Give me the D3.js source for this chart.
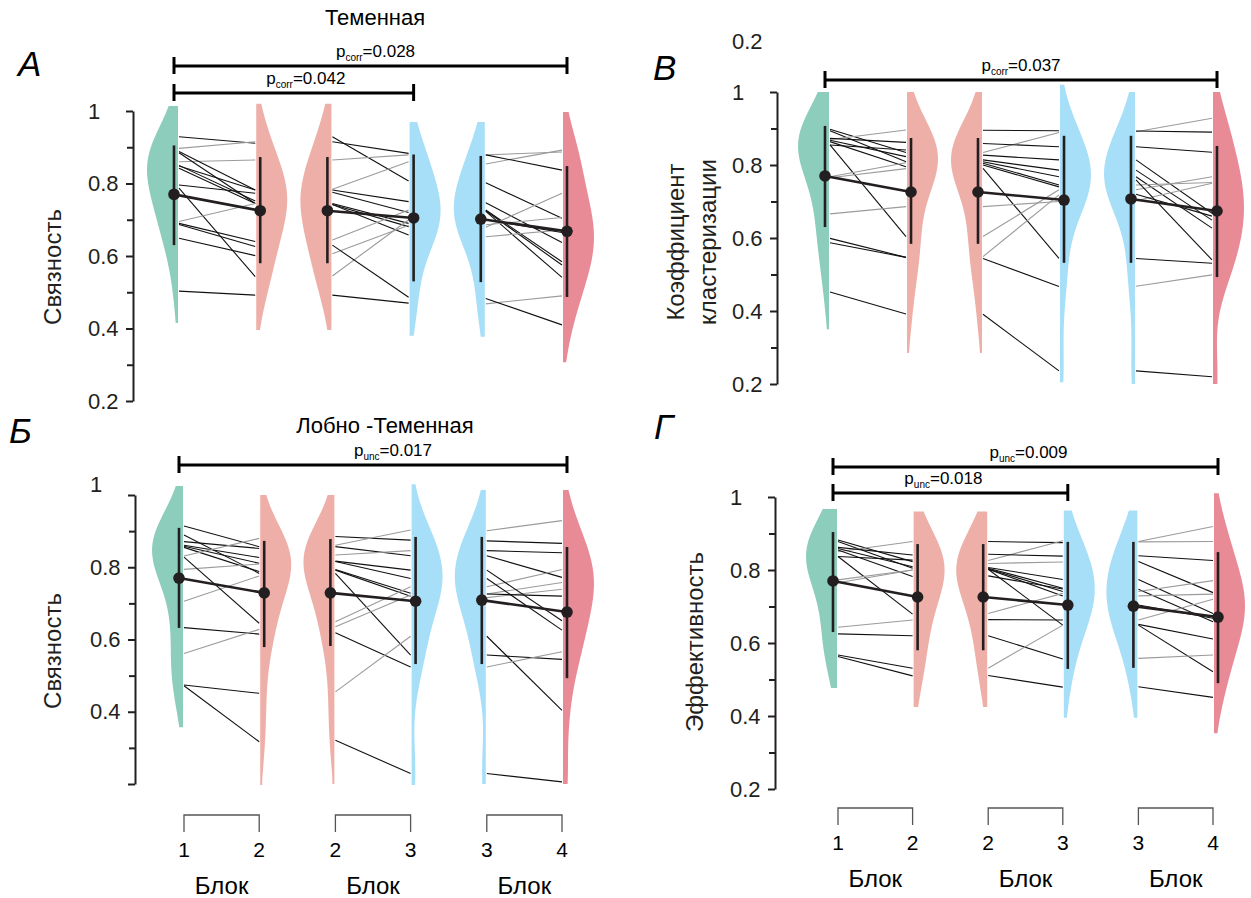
<!DOCTYPE html>
<html>
<head>
<meta charset="utf-8">
<script src="https://cdn.jsdelivr.net/npm/d3@7"></script>
<style>
  body { margin: 0; background: #fff; }
  svg { display: block; font-family: 'Liberation Sans', Arial, sans-serif; }
</style>
</head>
<body>
<div id="chart"></div>
<script>
// values

const yTicks = [0.2, 0.4, 0.6, 0.8, 1]
const yMinorTicks = [0.3, 0.5, 0.7, 0.9]
const blockNames = [['1', '2'], ['2', '3'], ['3', '4']]
const blockTitle = 'Блок'

// А  Теменная, связность
const aMeans = [0.77, 0.725, 0.725, 0.705, 0.702, 0.668]
const aLow = [0.63, 0.58, 0.58, 0.53, 0.528, 0.487]
const aHigh = [0.905, 0.873, 0.873, 0.88, 0.876, 0.848]
const aTop = [1.014, 1.02, 1.02, 0.97, 0.97, 0.997]
const aBottom = [0.415, 0.396, 0.396, 0.38, 0.377, 0.307]
const a12 = [[0.929, 0.911], [0.897, 0.915], [0.86, 0.865], [0.888, 0.782], [0.885, 0.745], [0.848, 0.782], [0.842, 0.745], [0.85, 0.752], [0.796, 0.773], [0.787, 0.543], [0.695, 0.745], [0.69, 0.64], [0.687, 0.626], [0.649, 0.601], [0.503, 0.492]]
const a23 = [[0.929, 0.807], [0.915, 0.883], [0.865, 0.879], [0.784, 0.86], [0.782, 0.75], [0.776, 0.72], [0.745, 0.69], [0.742, 0.681], [0.742, 0.658], [0.644, 0.727], [0.606, 0.685], [0.545, 0.7], [0.63, 0.486], [0.492, 0.47]]
const a34 = [[0.854, 0.892], [0.879, 0.887], [0.879, 0.837], [0.802, 0.704], [0.747, 0.637], [0.727, 0.584], [0.725, 0.575], [0.723, 0.541], [0.679, 0.773], [0.686, 0.706], [0.653, 0.672], [0.7, 0.665], [0.468, 0.49], [0.483, 0.41]]

// Б  Лобно-Теменная, связность
const bMeans = [0.77, 0.729, 0.729, 0.706, 0.709, 0.676]
const bLow = [0.632, 0.579, 0.582, 0.532, 0.532, 0.493]
const bHigh = [0.909, 0.873, 0.878, 0.884, 0.884, 0.856]
const bTop = [1.025, 1.0, 1.0, 1.03, 1.014, 1.014]
const bBottom = [0.357, 0.197, 0.2, 0.197, 0.2, 0.2]
const b12 = [[0.914, 0.857], [0.889, 0.783], [0.871, 0.852], [0.861, 0.827], [0.858, 0.811], [0.855, 0.788], [0.831, 0.88], [0.794, 0.809], [0.706, 0.776], [0.828, 0.645], [0.633, 0.615], [0.561, 0.628], [0.474, 0.451], [0.472, 0.317]]
const b23 = [[0.885, 0.875], [0.861, 0.903], [0.857, 0.832], [0.834, 0.846], [0.817, 0.792], [0.816, 0.769], [0.794, 0.728], [0.792, 0.72], [0.783, 0.557], [0.649, 0.746], [0.635, 0.723], [0.619, 0.524], [0.455, 0.609], [0.321, 0.229]]
const b34 = [[0.901, 0.929], [0.873, 0.866], [0.846, 0.84], [0.832, 0.772], [0.746, 0.794], [0.726, 0.758], [0.716, 0.739], [0.726, 0.72], [0.792, 0.652], [0.769, 0.626], [0.609, 0.404], [0.557, 0.545], [0.524, 0.566], [0.229, 0.206]]

// В  коэффициент кластеризации
const cMeans = [0.77, 0.726, 0.726, 0.704, 0.707, 0.674]
const cLow = [0.63, 0.584, 0.584, 0.532, 0.532, 0.493]
const cHigh = [0.907, 0.874, 0.874, 0.88, 0.88, 0.852]
const cTop = [1.0, 1.0, 1.0, 1.02, 1.0, 1.0]
const cBottom = [0.35, 0.285, 0.285, 0.205, 0.2, 0.2]
const c12 = [[0.898, 0.834], [0.894, 0.809], [0.87, 0.896], [0.873, 0.862], [0.868, 0.823], [0.864, 0.795], [0.855, 0.841], [0.855, 0.604], [0.768, 0.806], [0.765, 0.79], [0.666, 0.686], [0.599, 0.547], [0.587, 0.547], [0.452, 0.392]]
const c23 = [[0.895, 0.894], [0.834, 0.889], [0.859, 0.85], [0.827, 0.814], [0.814, 0.786], [0.809, 0.768], [0.805, 0.745], [0.8, 0.74], [0.791, 0.544], [0.686, 0.7], [0.604, 0.732], [0.549, 0.718], [0.544, 0.467], [0.391, 0.236]]
const c34 = [[0.891, 0.928], [0.893, 0.89], [0.85, 0.835], [0.814, 0.668], [0.786, 0.649], [0.768, 0.627], [0.732, 0.768], [0.745, 0.752], [0.702, 0.75], [0.759, 0.54], [0.72, 0.66], [0.544, 0.531], [0.468, 0.499], [0.236, 0.22]]

// Г  эффективность
const dMeans = [0.77, 0.726, 0.726, 0.704, 0.701, 0.671]
const dLow = [0.63, 0.58, 0.58, 0.529, 0.532, 0.49]
const dHigh = [0.904, 0.871, 0.871, 0.877, 0.877, 0.849]
const dTop = [0.967, 0.96, 0.96, 0.963, 0.963, 1.01]
const dBottom = [0.477, 0.425, 0.425, 0.395, 0.395, 0.353]
const d12 = [[0.882, 0.823], [0.878, 0.805], [0.85, 0.878], [0.862, 0.841], [0.859, 0.809], [0.855, 0.782], [0.837, 0.827], [0.837, 0.679], [0.773, 0.8], [0.765, 0.8], [0.643, 0.663], [0.625, 0.62], [0.567, 0.531], [0.563, 0.51]]
const d23 = [[0.878, 0.875], [0.826, 0.88], [0.843, 0.838], [0.818, 0.822], [0.807, 0.774], [0.805, 0.75], [0.803, 0.741], [0.802, 0.729], [0.784, 0.748], [0.802, 0.649], [0.681, 0.736], [0.664, 0.663], [0.62, 0.556], [0.531, 0.649], [0.511, 0.479]]
const d34 = [[0.878, 0.919], [0.877, 0.878], [0.839, 0.826], [0.823, 0.738], [0.774, 0.681], [0.747, 0.658], [0.741, 0.771], [0.729, 0.734], [0.663, 0.72], [0.704, 0.668], [0.651, 0.611], [0.649, 0.521], [0.558, 0.567], [0.48, 0.451]]

// significance brackets: [from group, to group, p type, p value]
const aStats = [[0, 5, 'corr', '0.028'], [0, 3, 'corr', '0.042']]
const bStats = [[0, 5, 'unc', '0.017']]
const cStats = [[0, 5, 'corr', '0.037']]
const dStats = [[0, 5, 'unc', '0.009'], [0, 3, 'unc', '0.018']]

const violinColors = ['#8dcdbb', '#efafa9', '#efafa9', '#a8dff8', '#a8dff8', '#e98b96']
const ink = '#231f20'

const panels = [
  {
    key: 'a', letter: 'А', letterX: 18, letterY: 76,
    title: 'Теменная', titleX: 375, titleY: 25,
    yLabel: ['Связность'], yLabelX: 53, yLabelY: 267,
    means: aMeans, low: aLow, high: aHigh, top: aTop, bottom: aBottom, pairs: [a12, a23, a34],
    axisX: 133, yTop: 111, yBottom: 401, xStart: 178, xEnd: 563,
    stats: aStats, statY: [66, 93], statDx: [5, 12]
  },
  {
    key: 'b', letter: 'Б', letterX: 9, letterY: 443,
    title: 'Лобно -Теменная', titleX: 385, titleY: 433,
    yLabel: ['Связность'], yLabelX: 53, yLabelY: 651,
    means: bMeans, low: bLow, high: bHigh, top: bTop, bottom: bBottom, pairs: [b12, b23, b34],
    axisX: 135, yTop: 495, yBottom: 784, xStart: 183, xEnd: 563,
    stats: bStats, statY: [465], statDx: [20],
    hideLabel: 0.2, oneShift: -11,
    blocksY: 815
  },
  {
    key: 'c', letter: 'В', letterX: 653, letterY: 80,
    yLabel: ['Коэффициент', 'кластеризации'], yLabelX: 692, yLabelY: 242,
    means: cMeans, low: cLow, high: cHigh, top: cTop, bottom: cBottom, pairs: [c12, c23, c34],
    axisX: 777, yTop: 92, yBottom: 384, xStart: 829, xEnd: 1213,
    stats: cStats, statY: [80], statDx: [0],
    strayLabel: true
  },
  {
    key: 'd', letter: 'Г', letterX: 654, letterY: 439,
    yLabel: ['Эффективность'], yLabelX: 695, yLabelY: 642,
    means: dMeans, low: dLow, high: dHigh, top: dTop, bottom: dBottom, pairs: [d12, d23, d34],
    axisX: 775, yTop: 497, yBottom: 789, xStart: 837, xEnd: 1214,
    stats: dStats, statY: [467, 493], statDx: [3, -7],
    blocksY: 808
  }
]

const svg = d3
  .select('#chart')
  .append('svg')
  .attr('width', 1251)
  .attr('height', 898)

function kde(values, lo, hi, bw) {
  return d3.range(0, 61).map(i => {
    const v = lo + ((hi - lo) * i) / 60
    return [v, d3.sum(values, x => Math.exp(-0.5 * ((v - x) / bw) ** 2))]
  })
}

panels.forEach(drawPanel)

function drawPanel(p) {
  const g = svg.append('g').attr('class', 'panel panel-' + p.key)

  const yScale = d3
    .scaleLinear()
    .domain([0.2, 1])
    .range([p.yBottom, p.yTop])
  const xScale = d3
    .scaleBand()
    .domain([0, 1, 2])
    .range([p.xStart, p.xEnd])
    .paddingInner(0.49)
  const bw = xScale.bandwidth()

  const flat = i => (i % 2 === 0 ? xScale(i >> 1) : xScale(i >> 1) + bw)
  const side = i => (i % 2 === 0 ? -1 : 1)
  const dotX = i => flat(i) + side(i) * 4

  // half violins
  p.means.forEach((m, i) => {
    const vals = p.pairs[i >> 1].map(d => d[i % 2])
    const dens = kde(vals, p.bottom[i], p.top[i], 0.095)
    const w = d3
      .scaleLinear()
      .domain([0, d3.max(dens, d => d[1])])
      .range([0, 31])
    const area = d3
      .area()
      .curve(d3.curveBasis)
      .y(d => yScale(d[0]))
      .x0(flat(i))
      .x1(d => flat(i) + side(i) * Math.max(2, w(d[1])))
    g.append('path')
      .attr('d', area(dens))
      .attr('fill', violinColors[i])
  })

  // one line per subject
  p.pairs.forEach((pairs, k) => {
    g.append('g')
      .selectAll('line')
      .data(pairs)
      .enter()
      .append('line')
      .attr('x1', xScale(k) + 1)
      .attr('x2', xScale(k) + bw - 1)
      .attr('y1', d => yScale(d[0]))
      .attr('y2', d => yScale(d[1]))
      .attr('stroke', d => (d[1] > d[0] ? '#9b9b9b' : '#111'))
      .attr('stroke-width', 1.1)
  })

  // mean lines
  g.append('g')
    .selectAll('line')
    .data([0, 1, 2])
    .enter()
    .append('line')
    .attr('x1', k => dotX(2 * k))
    .attr('x2', k => dotX(2 * k + 1))
    .attr('y1', k => yScale(p.means[2 * k]))
    .attr('y2', k => yScale(p.means[2 * k + 1]))
    .attr('stroke', ink)
    .attr('stroke-width', 2.6)

  // error bars
  g.append('g')
    .selectAll('line')
    .data(p.means)
    .enter()
    .append('line')
    .attr('x1', (d, i) => dotX(i))
    .attr('x2', (d, i) => dotX(i))
    .attr('y1', (d, i) => yScale(p.low[i]))
    .attr('y2', (d, i) => yScale(p.high[i]))
    .attr('stroke', ink)
    .attr('stroke-width', 2.6)

  g.append('g')
    .selectAll('circle')
    .data(p.means)
    .enter()
    .append('circle')
    .attr('cx', (d, i) => dotX(i))
    .attr('cy', d => yScale(d))
    .attr('r', 5.8)
    .attr('fill', ink)

  // y axis, labels sit left-aligned like in the source figure
  const yAxis = d3
    .axisLeft(yScale)
    .tickValues(yTicks)
    .tickSize(7)
    .tickSizeOuter(0)
    .tickFormat(d => (d === p.hideLabel ? '' : d === 1 ? '1' : d3.format('.1f')(d)))
  const axisG = g
    .append('g')
    .attr('class', 'axis y-axis')
    .attr('transform', 'translate(' + p.axisX + ',0)')
    .call(yAxis)
  axisG.attr('font-family', null).attr('font-size', 22)
  axisG.select('.domain').attr('stroke', ink).attr('stroke-width', 2)
  axisG.selectAll('.tick line').attr('stroke', ink).attr('stroke-width', 2)
  axisG
    .selectAll('.tick text')
    .attr('fill', ink)
    .attr('x', -45)
    .attr('text-anchor', 'start')
  if (p.oneShift) {
    axisG
      .selectAll('.tick text')
      .filter(d => d === 1)
      .attr('y', p.oneShift)
  }

  const minorG = g
    .append('g')
    .attr('transform', 'translate(' + p.axisX + ',0)')
    .call(d3.axisLeft(yScale).tickValues(yMinorTicks).tickSize(6).tickFormat(''))
  minorG.select('.domain').remove()
  minorG.selectAll('.tick line').attr('stroke', ink).attr('stroke-width', 2)

  if (p.strayLabel) {
    g.append('text')
      .attr('x', p.axisX - 45)
      .attr('y', p.yTop - 43)
      .attr('font-size', 22)
      .attr('fill', ink)
      .text(d3.format('.1f')(yTicks[0]))
  }

  // y label
  const yl = g
    .append('text')
    .attr('transform', 'translate(' + p.yLabelX + ',' + p.yLabelY + ') rotate(-90)')
    .attr('text-anchor', 'middle')
    .attr('font-size', 24)
    .attr('fill', ink)
  p.yLabel.forEach((t, j) => {
    yl.append('tspan')
      .attr('x', 0)
      .attr('y', (j - (p.yLabel.length - 1) / 2) * 32 + 8)
      .text(t)
  })

  // panel letter and title
  g.append('text')
    .attr('x', p.letterX)
    .attr('y', p.letterY)
    .attr('font-size', 35)
    .attr('font-style', 'italic')
    .attr('fill', '#000')
    .text(p.letter)
  if (p.title) {
    g.append('text')
      .attr('x', p.titleX)
      .attr('y', p.titleY)
      .attr('text-anchor', 'middle')
      .attr('font-size', 22)
      .attr('fill', '#000')
      .text(p.title)
  }

  // significance brackets
  p.stats.forEach((s, j) => {
    const x1 = dotX(s[0])
    const x2 = dotX(s[1])
    const yb = p.statY[j]
    const sg = g.append('g').attr('stroke', '#000').attr('stroke-width', 3)
    sg.append('line').attr('x1', x1).attr('x2', x2).attr('y1', yb).attr('y2', yb)
    sg.append('line').attr('x1', x1).attr('x2', x1).attr('y1', yb - 9).attr('y2', yb + 8)
    sg.append('line').attr('x1', x2).attr('x2', x2).attr('y1', yb - 9).attr('y2', yb + 8)
    const t = g
      .append('text')
      .attr('x', (x1 + x2) / 2 + p.statDx[j])
      .attr('y', yb - 9)
      .attr('text-anchor', 'middle')
      .attr('font-size', 17)
      .attr('fill', '#000')
    t.append('tspan').text('p')
    t.append('tspan').attr('dy', 4).attr('font-size', 10).text(s[2])
    t.append('tspan').attr('dy', -4).text('=' + s[3])
  })

  // block brackets under the bottom panels
  if (p.blocksY) {
    blockNames.forEach((names, k) => {
      const x1 = xScale(k) + 1
      const x2 = xScale(k) + bw - 1
      const b = p.blocksY
      g.append('path')
        .attr('d', 'M' + x1 + ',' + (b + 17) + 'V' + b + 'H' + x2 + 'V' + (b + 17))
        .attr('fill', 'none')
        .attr('stroke', '#555')
        .attr('stroke-width', 1.3)
      g.selectAll('.num' + k)
        .data(names)
        .enter()
        .append('text')
        .attr('x', (d, j) => (j === 0 ? x1 : x2))
        .attr('y', b + 42)
        .attr('text-anchor', 'middle')
        .attr('font-size', 21)
        .attr('fill', '#000')
        .text(d => d)
      g.append('text')
        .attr('x', (x1 + x2) / 2)
        .attr('y', b + 79)
        .attr('text-anchor', 'middle')
        .attr('font-size', 24)
        .attr('fill', '#000')
        .text(blockTitle)
    })
  }
}
</script>
</body>
</html>
